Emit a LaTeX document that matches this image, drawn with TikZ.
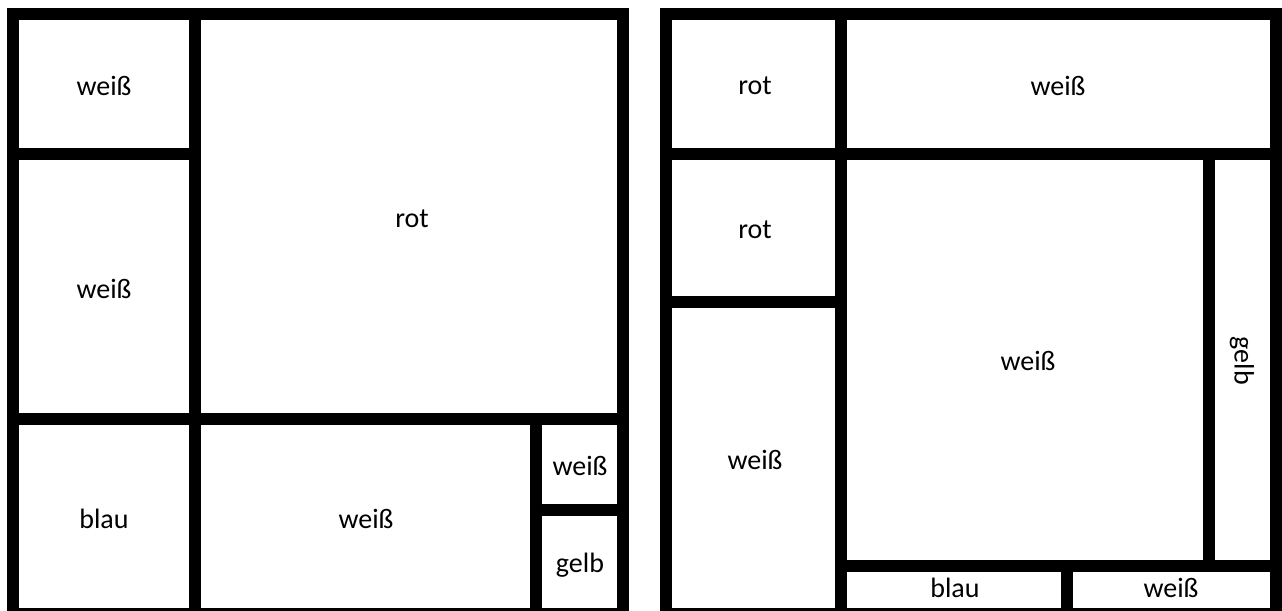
\documentclass[tikz,border=0pt]{standalone}
\usepackage{fontspec}
\setmainfont{Carlito}
\usetikzlibrary{positioning}
\tikzset{
  bar/.style={draw=black,line width=6pt},
  field/.style={font=\fontsize{14}{17}\selectfont,inner sep=0pt}
}
\begin{document}
\begin{tikzpicture}[x=0.5pt,y=-0.5pt]
\useasboundingbox (0,0) rectangle (1282,611);
% linkes Feld
\draw[bar] (13,14) rectangle (623,614);
\draw[bar] (195,14) -- (195,614);
\draw[bar] (13,154) -- (195,154);
\draw[bar] (13,419) -- (623,419);
\draw[bar] (536,419) -- (536,614);
\draw[bar] (536,510) -- (623,510);
\node[field] (lw1) at (104,86) {weiß};
\node[field] (lw2) at (104,289) {weiß};
\node[field] (lrot) at (412,219) {rot};
\node[field] (lblau) at (104,519) {blau};
\node[field] (lw3) at (366,519) {weiß};
\node[field] (lw4) at (580,466) {weiß};
\node[field] (lgelb) at (580,565) {gelb};
% rechtes Feld
\draw[bar] (666,14) rectangle (1276,614);
\draw[bar] (841,14) -- (841,614);
\draw[bar] (666,154) -- (1276,154);
\draw[bar] (666,302) -- (841,302);
\draw[bar] (1209,154) -- (1209,566);
\draw[bar] (841,566) -- (1276,566);
\draw[bar] (1067,566) -- (1067,614);
\node[field] (rrot1) at (755,86) {rot};
\node[field] (rw1) at (1058,86) {weiß};
\node[field] (rrot2) at (755,230) {rot};
\node[field] (rw2) at (755,460) {weiß};
\node[field] (rw3) at (1028,361) {weiß};
\node[field,rotate=-90] (rgelb) at (1242,361) {gelb};
\node[field] (rblau) at (955,588) {blau};
\node[field] (rw4) at (1171,588) {weiß};
\end{tikzpicture}
\end{document}
